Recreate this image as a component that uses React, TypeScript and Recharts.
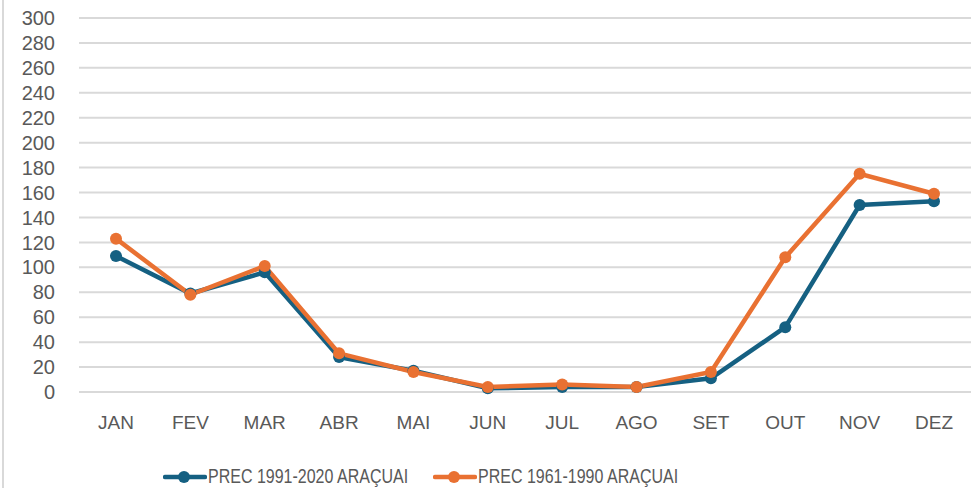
import { LineChart, Line, XAxis, YAxis, CartesianGrid, Legend } from 'recharts';

// Monthly rainfall (mm) - Araçuaí
const months = ['JAN', 'FEV', 'MAR', 'ABR', 'MAI', 'JUN', 'JUL', 'AGO', 'SET', 'OUT', 'NOV', 'DEZ'];
const prec1991 = [109, 79, 96, 28, 17, 3, 4, 4, 11, 52, 150, 153];
const prec1961 = [123, 78, 101, 31, 16, 4, 6, 4, 16, 108, 175, 159];
const yTicks = [0, 20, 40, 60, 80, 100, 120, 140, 160, 180, 200, 220, 240, 260, 280, 300];

const BLUE = '#156082';
const ORANGE = '#E97132';

const data = months.map((m, i) => ({
  month: m,
  p1991: prec1991[i],
  p1961: prec1961[i],
}));

const legendItems = [
  { label: 'PREC 1991-2020 ARAÇUAI', color: BLUE, left: 163 },
  { label: 'PREC 1961-1990 ARAÇUAI', color: ORANGE, left: 433 },
];

const CustomLegend = () => (
  <div style={{ position: 'relative', width: 973, height: 36 }}>
    {legendItems.map((item) => (
      <div
        key={item.label}
        style={{
          position: 'absolute',
          left: item.left,
          top: 13,
          display: 'flex',
          alignItems: 'center',
          fontFamily: '"Liberation Sans", Arial, sans-serif',
          fontSize: 20,
          color: '#595959',
          whiteSpace: 'nowrap',
        }}
      >
        <svg width={44} height={14} style={{ marginRight: 1 }}>
          <line x1={2} y1={7} x2={42} y2={7} stroke={item.color} strokeWidth={4.5} strokeLinecap="round" />
          <circle cx={21} cy={7} r={6} fill={item.color} />
        </svg>
        <span style={{ display: 'inline-block', transform: 'scaleX(0.8)', transformOrigin: 'left center' }}>
          {item.label}
        </span>
      </div>
    ))}
  </div>
);

const App = () => {
  const xTickStyle = { fill: '#595959', fontSize: 19, fontFamily: '"Liberation Sans", Arial, sans-serif' };
  const yTickStyle = { fill: '#595959', fontSize: 20, fontFamily: '"Liberation Sans", Arial, sans-serif' };
  return (
    <div style={{ position: 'relative', width: 973, height: 488, background: '#fff' }}>
      <style>{'body{margin:0}'}</style>
      <div style={{ position: 'absolute', left: 2, top: 0, width: 2, height: 488, background: '#d9d9d9' }} />
      <LineChart width={973} height={488} data={data} margin={{ top: 18, right: 2, left: 0, bottom: 0 }}>
        <CartesianGrid vertical={false} stroke="#d9d9d9" strokeWidth={2} />
        <XAxis
          dataKey="month"
          axisLine={false}
          tickLine={false}
          tickSize={0}
          tickMargin={24}
          height={60}
          interval={0}
          padding={{ left: 37, right: 37 }}
          tick={xTickStyle}
        />
        <YAxis
          domain={[0, 300]}
          ticks={yTicks}
          axisLine={false}
          tickLine={false}
          tickSize={0}
          tickMargin={24}
          width={79}
          interval={0}
          tick={yTickStyle}
        />
        <Legend verticalAlign="bottom" height={36} wrapperStyle={{ left: 0, width: 973 }} content={<CustomLegend />} />
        <Line
          type="linear"
          dataKey="p1991"
          stroke={BLUE}
          strokeWidth={4.5}
          dot={{ r: 6, fill: BLUE, stroke: BLUE, strokeWidth: 0 }}
          activeDot={false}
          isAnimationActive={false}
        />
        <Line
          type="linear"
          dataKey="p1961"
          stroke={ORANGE}
          strokeWidth={4.5}
          dot={{ r: 6, fill: ORANGE, stroke: ORANGE, strokeWidth: 0 }}
          activeDot={false}
          isAnimationActive={false}
        />
      </LineChart>
    </div>
  );
};

export default App;
